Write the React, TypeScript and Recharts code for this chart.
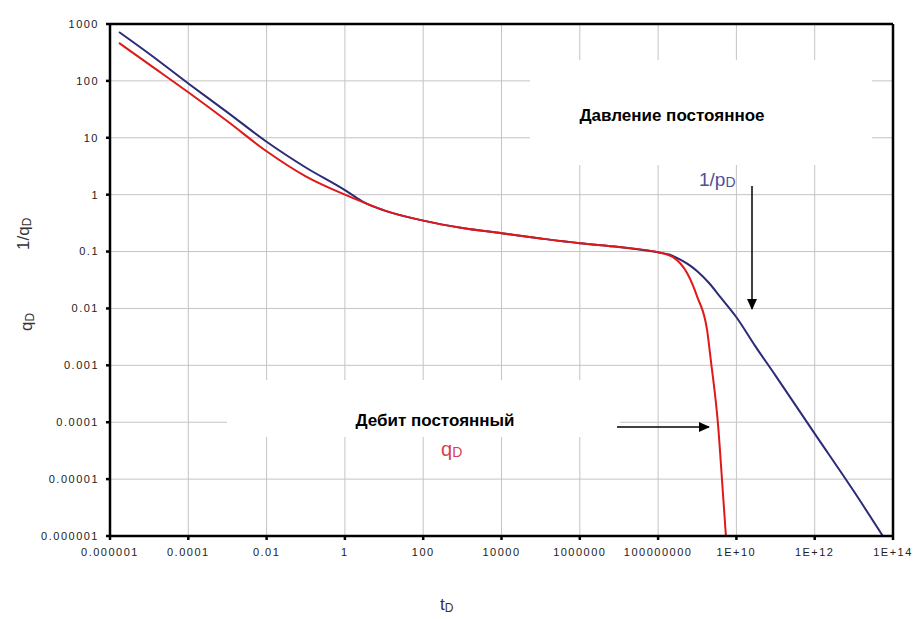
import { LineChart, Line, XAxis, YAxis, CartesianGrid, ReferenceLine } from 'recharts';

// t_D ticks and labels
const xTicks = [1e-6, 1e-4, 1e-2, 1, 1e2, 1e4, 1e6, 1e8, 1e10, 1e12, 1e14];
const xTickLabels = ['0.000001', '0.0001', '0.01', '1', '100', '10000', '1000000', '100000000', '1E+10', '1E+12', '1E+14'];

const yTicks = [1e-6, 1e-5, 1e-4, 1e-3, 1e-2, 1e-1, 1, 10, 100, 1000];
const yTickLabels = ['0.000001', '0.00001', '0.0001', '0.001', '0.01', '0.1', '1', '10', '100', '1000'];

// 1/p_D (constant pressure), blue
const pressureT = [1.7e-6, 1e-5, 1e-4, 1e-3, 1e-2, 1e-1, 1, 2, 3, 10, 100, 1e3, 1e4, 1e5, 1e6, 1e7, 1e8, 2e8, 4e8, 7e8, 1e9, 2e9, 4e9, 1e10, 3e10, 1e11, 1e12, 1e13, 5.5e13];
const pressureV = [724, 300, 90, 28, 8.5, 3.0, 1.2, 0.88, 0.74, 0.53, 0.35, 0.26, 0.21, 0.17, 0.14, 0.12, 0.097, 0.088, 0.07, 0.055, 0.045, 0.028, 0.0155, 0.007, 0.0022, 0.00066, 0.000063, 0.0000061, 0.000001];

// q_D (constant rate), red
const rateT = [1.7e-6, 1e-5, 1e-4, 1e-3, 1e-2, 1e-1, 1, 3, 10, 100, 1e3, 1e4, 1e5, 1e6, 1e7, 1e8, 2.4e8, 5.5e8, 1e9, 1.8e9, 2.2e9, 3.4e9, 4.5e9, 5.4e9];
const rateV = [465, 195, 63, 19.5, 5.8, 2.1, 1.0, 0.73, 0.53, 0.35, 0.26, 0.21, 0.17, 0.14, 0.12, 0.097, 0.08, 0.042, 0.016, 0.004, 0.0013, 0.00009, 0.000006, 0.000001];

const pressureData = pressureT.map((t, i) => ({ t, v: pressureV[i] }));
const rateData = rateT.map((t, i) => ({ t, v: rateV[i] }));

const fmtX = (v: number) => xTickLabels[xTicks.findIndex((t) => Math.abs(Math.log10(t) - Math.log10(v)) < 0.01)] ?? '';
const fmtY = (v: number) => yTickLabels[yTicks.findIndex((t) => Math.abs(Math.log10(t) - Math.log10(v)) < 0.01)] ?? '';

const tickStyle = { fontSize: 11, fill: '#222', letterSpacing: 1.5, fontFamily: 'Liberation Sans, Arial, sans-serif' };

export default function App() {
  return (
    <div style={{ position: 'absolute', left: 0, top: 0, width: 919, height: 619, background: '#fff', fontFamily: 'Liberation Sans, Arial, sans-serif' }}>
      <LineChart width={919} height={619} margin={{ top: 24, right: 26, left: 0, bottom: 53 }}>
        <CartesianGrid stroke="#c4c4c4" strokeWidth={1} horizontalValues={yTicks} verticalValues={xTicks} />
        <XAxis
          dataKey="t"
          type="number"
          scale="log"
          domain={[1e-6, 1e14]}
          ticks={xTicks}
          tickFormatter={fmtX}
          allowDataOverflow
          interval={0}
          height={30}
          tick={tickStyle}
          tickSize={4}
          tickMargin={8}
          stroke="#000"
          strokeWidth={2.5}
        />
        <YAxis
          dataKey="v"
          type="number"
          scale="log"
          domain={[1e-6, 1000]}
          ticks={yTicks}
          tickFormatter={fmtY}
          allowDataOverflow
          interval={0}
          width={110}
          tick={tickStyle}
          tickSize={4}
          tickMargin={7}
          stroke="#000"
          strokeWidth={2.5}
        />
        <ReferenceLine y={1000} stroke="#000" strokeWidth={2.5} ifOverflow="visible" />
        <ReferenceLine x={1e14} stroke="#000" strokeWidth={2.5} ifOverflow="visible" />
        <Line data={pressureData} dataKey="v" type="monotone" stroke="#2b2b78" strokeWidth={2} dot={false} isAnimationActive={false} />
        <Line data={rateData} dataKey="v" type="monotone" stroke="#e01818" strokeWidth={2} dot={false} isAnimationActive={false} />
      </LineChart>

      <svg width={919} height={619} style={{ position: 'absolute', left: 0, top: 0, pointerEvents: 'none' }}>
        <defs>
          <marker id="ah" markerWidth="11" markerHeight="10" refX="10" refY="5" orient="auto" markerUnits="userSpaceOnUse">
            <path d="M0,0 L11,5 L0,10 z" fill="#000" />
          </marker>
        </defs>
        {/* white label boxes over the grid */}
        <rect x={530} y={60} width={342} height={105} fill="#fff" />
        <rect x={227} y={380} width={393} height={57} fill="#fff" />

        <text x={672} y={121} textAnchor="middle" fontSize={17} fontWeight="bold" fill="#000">Давление постоянное</text>
        <text x={699} y={186} fontSize={19} fill="#4e4e9a">1/p<tspan fontSize={14} dy={1}>D</tspan></text>
        <line x1={752} y1={186} x2={752} y2={309} stroke="#000" strokeWidth={1.5} markerEnd="url(#ah)" />

        <text x={435} y={426} textAnchor="middle" fontSize={17} fontWeight="bold" fill="#000">Дебит постоянный</text>
        <text x={441} y={456} fontSize={20} fill="#d84050">q<tspan fontSize={14} dy={1}>D</tspan></text>
        <line x1={617} y1={427} x2={709} y2={427} stroke="#000" strokeWidth={1.5} markerEnd="url(#ah)" />

        <text transform="translate(29,250) rotate(-90)" fontSize={17} fill="#333">1/q<tspan fontSize={12} dy={2}>D</tspan></text>
        <text transform="translate(32,331) rotate(-90)" fontSize={17} fill="#333">q<tspan fontSize={12} dy={2}>D</tspan></text>
        <text x={440} y={610} fontSize={17} fill="#333">t<tspan fontSize={12} dy={2}>D</tspan></text>
      </svg>
    </div>
  );
}
